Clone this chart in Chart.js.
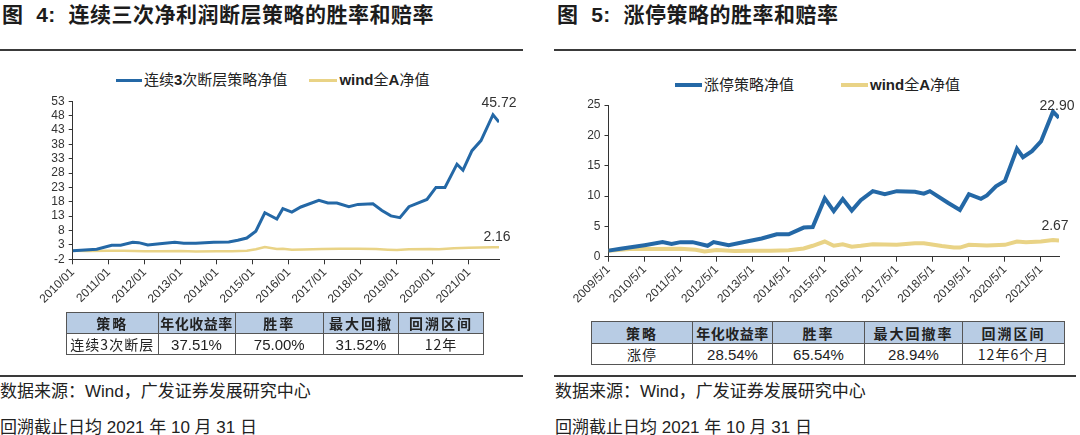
<!DOCTYPE html>
<html><head><meta charset="utf-8">
<script src="https://cdn.jsdelivr.net/npm/chart.js@4"></script>
<style>
html,body{margin:0;padding:0;background:#fff;}
body{width:1080px;height:435px;position:relative;overflow:hidden;font-family:"Liberation Sans","Noto Sans CJK SC",sans-serif;color:#222;}
.title{position:absolute;font-family:"Liberation Sans","Noto Sans CJK SC",sans-serif;font-weight:bold;font-size:21px;letter-spacing:0.5px;white-space:nowrap;line-height:24px;color:#1c1c1c;}
.rule{position:absolute;height:2px;background:#3a3a3a;}
.legend{position:absolute;font-size:15px;white-space:nowrap;display:flex;align-items:center;line-height:18px;color:#222;}
.legend b{font-family:"Liberation Sans";}
.sw{display:inline-block;height:3px;margin-right:2px;}
table{border-collapse:collapse;position:absolute;table-layout:fixed;}
td{border:1px solid #555;text-align:center;padding:0;font-size:15px;color:#222;}
td.cn{font-family:"Noto Sans CJK SC",sans-serif;font-size:14px;letter-spacing:1px;}
tr.hd td{background:#B8CCE4;font-weight:bold;font-family:"Noto Sans CJK SC",sans-serif;font-size:14px;letter-spacing:2px;}
.note{position:absolute;font-size:17px;white-space:nowrap;color:#222;line-height:20px;}
canvas{position:absolute;}
</style></head>
<body>
<div class="title" style="left:2px;top:3px;">图&nbsp;&nbsp;4:&nbsp;&nbsp;连续三次净利润断层策略的胜率和赔率</div>
<div class="rule" style="left:0;top:49px;width:523px;"></div>
<div class="title" style="left:557px;top:3px;">图&nbsp;&nbsp;5:&nbsp;&nbsp;涨停策略的胜率和赔率</div>
<div class="rule" style="left:554px;top:49px;width:522px;"></div>

<div class="legend" style="left:116px;top:71px;"><span class="sw" style="width:26px;background:#2468A6;"></span>连续<b>3</b>次断层策略净值<span class="sw" style="width:28px;background:#E9D386;margin-left:22px;"></span><b>wind</b>全<b>A</b>净值</div>
<div class="legend" style="left:675px;top:76px;"><span class="sw" style="width:27px;height:4px;background:#2468A6;"></span>涨停策略净值<span class="sw" style="width:27px;height:4px;background:#E9D386;margin-left:47px;"></span><b>wind</b>全<b>A</b>净值</div>

<canvas id="c1" width="520" height="230" style="left:0;top:90px;"></canvas>
<canvas id="c2" width="535" height="230" style="left:540px;top:90px;"></canvas>

<table style="left:66px;top:312px;width:417px;">
<colgroup><col style="width:91.5px"><col style="width:77px"><col style="width:88.5px"><col style="width:75px"><col style="width:85px"></colgroup>
<tr class="hd" style="height:21px;"><td>策略</td><td style="letter-spacing:0.5px">年化收益率</td><td>胜率</td><td>最大回撤</td><td>回溯区间</td></tr>
<tr style="height:21px;"><td class="cn">连续3次断层</td><td>37.51%</td><td>75.00%</td><td>31.52%</td><td class="cn">12年</td></tr>
</table>
<table style="left:591px;top:321px;width:473px;">
<colgroup><col style="width:101px"><col style="width:80px"><col style="width:92px"><col style="width:98px"><col style="width:102px"></colgroup>
<tr class="hd" style="height:22px;"><td>策略</td><td style="letter-spacing:0.5px">年化收益率</td><td>胜率</td><td>最大回撤率</td><td>回溯区间</td></tr>
<tr style="height:20px;"><td class="cn">涨停</td><td>28.54%</td><td>65.54%</td><td>28.94%</td><td class="cn">12年6个月</td></tr>
</table>

<div class="rule" style="left:0;top:375px;width:523px;"></div>
<div class="rule" style="left:554px;top:375px;width:522px;"></div>
<div class="note" style="left:0;top:382px;">数据来源：Wind，广发证券发展研究中心</div>
<div class="note" style="left:0;top:418px;">回溯截止日均 2021 年 10 月 31 日</div>
<div class="note" style="left:555px;top:382px;">数据来源：Wind，广发证券发展研究中心</div>
<div class="note" style="left:555px;top:418px;">回溯截止日均 2021 年 10 月 31 日</div>

<script>
// ---------- Data: chart 1 (连续三次净利润断层) ----------
const c1SeriesNames = ['连续3次断层策略净值', 'wind全A净值'];
const c1XTicks = ['2010/01','2011/01','2012/01','2013/01','2014/01','2015/01','2016/01','2017/01','2018/01','2019/01','2020/01','2021/01'];
const c1YTicks = [-2, 3, 8, 13, 18, 23, 28, 33, 38, 43, 48, 53];
const c1StratDates = ['2010/01','2010/09','2011/02','2011/05','2011/09','2011/11','2012/02','2012/06','2012/11','2013/02','2013/06','2013/12','2014/05','2014/08','2014/11','2015/02','2015/05','2015/09','2015/11','2016/02','2016/05','2016/11','2017/02','2017/05','2017/09','2017/12','2018/05','2018/08','2018/11','2019/02','2019/05','2019/11','2020/02','2020/05','2020/09','2020/11','2021/02','2021/05','2021/09','2021/11'];
const c1StratValues = [1.0,1.5,2.9,2.9,3.9,3.8,3.0,3.45,3.9,3.55,3.6,3.9,4.0,4.6,5.4,7.75,14.2,12.0,15.6,14.4,16.2,18.5,17.6,17.6,16.3,17.1,17.3,15.0,13.1,12.5,16.3,18.8,23.0,23.0,31.1,29.0,35.8,39.3,48.3,45.72];
const c1WindDates = ['2010/01','2010/06','2011/01','2011/06','2012/01','2012/06','2013/01','2013/06','2014/01','2014/06','2014/11','2015/02','2015/05','2015/09','2015/11','2016/02','2016/06','2016/12','2017/06','2017/12','2018/06','2018/10','2019/01','2019/05','2019/12','2020/03','2020/08','2021/01','2021/05','2021/09','2021/11'];
const c1WindValues = [1.0,0.9,1.0,0.95,0.8,0.8,0.85,0.75,0.8,0.8,1.0,1.5,2.3,1.6,1.7,1.3,1.45,1.6,1.65,1.7,1.6,1.35,1.2,1.5,1.55,1.5,1.85,2.05,2.1,2.2,2.16];

// ---------- Data: chart 2 (涨停) ----------
const c2SeriesNames = ['涨停策略净值', 'wind全A净值'];
const c2XTicks = ['2009/5/1','2010/5/1','2011/5/1','2012/5/1','2013/5/1','2014/5/1','2015/5/1','2016/5/1','2017/5/1','2018/5/1','2019/5/1','2020/5/1','2021/5/1'];
const c2YTicks = [0, 5, 10, 15, 20, 25];
const c2StratDates = ['2009/5','2009/9','2010/1','2010/5','2010/11','2011/2','2011/5','2011/9','2012/2','2012/4','2012/9','2013/3','2013/8','2014/1','2014/5','2014/10','2015/1','2015/5','2015/8','2015/11','2016/2','2016/5','2016/9','2017/1','2017/5','2017/11','2018/2','2018/4','2018/10','2019/2','2019/5','2019/9','2019/11','2020/2','2020/5','2020/9','2020/11','2021/2','2021/5','2021/9','2021/11'];
const c2StratValues = [1.0,1.3,1.6,1.9,2.4,2.1,2.4,2.4,1.8,2.4,1.9,2.5,3.0,3.7,3.7,4.8,4.9,9.6,7.5,9.5,7.6,9.3,10.8,10.3,10.8,10.7,10.4,10.8,8.9,7.7,10.3,9.55,10.1,11.6,12.5,17.8,16.4,17.4,19.0,23.9,22.90];
const c2WindDates = ['2009/5','2010/1','2010/8','2011/5','2011/10','2012/1','2012/5','2012/11','2013/5','2013/11','2014/5','2014/10','2015/1','2015/5','2015/8','2015/11','2016/2','2016/5','2016/9','2017/5','2017/11','2018/2','2018/8','2018/12','2019/2','2019/5','2019/11','2020/5','2020/9','2020/12','2021/5','2021/9','2021/11'];
const c2WindValues = [1.0,1.3,1.25,1.3,1.15,0.85,1.1,0.95,1.0,1.0,1.05,1.35,1.8,2.5,1.8,2.05,1.65,1.8,2.05,1.95,2.2,2.2,1.75,1.5,1.5,1.95,1.85,1.95,2.5,2.4,2.5,2.75,2.67];

// ---------- helpers ----------
const toYear = s => { const p = s.split('/'); return +p[0] + (+p[1] - 1) / 12; };
const pts = (dates, vals) => dates.map((d, i) => ({ x: toYear(d), y: vals[i] }));

const endLabels = {
  id: 'endLabels',
  afterDatasetsDraw(chart) {
    const ctx = chart.ctx;
    chart.data.datasets.forEach((ds, i) => {
      const meta = chart.getDatasetMeta(i);
      const el = meta.data[meta.data.length - 1];
      const v = ds.data[ds.data.length - 1].y;
      ctx.save();
      ctx.font = '14px "Liberation Sans", Arial, sans-serif';
      ctx.fillStyle = '#333';
      ctx.textAlign = 'center';
      ctx.textBaseline = 'bottom';
      ctx.fillText(v.toFixed(2), el.x + (ds.labelDx || 0), el.y - ds.labelDy);
      ctx.restore();
    });
  }
};

function makeChart(id, cfg) {
  const tickFont = { family: '"Liberation Sans", Arial, sans-serif', size: 12 };
  return new Chart(document.getElementById(id), {
    type: 'line',
    data: {
      datasets: [
        { label: cfg.names[0], data: pts(cfg.sDates, cfg.sVals), borderColor: '#2468A6', borderWidth: cfg.bw[0], pointRadius: 0, tension: 0, labelDy: cfg.dy[0], labelDx: cfg.dx[0] },
        { label: cfg.names[1], data: pts(cfg.wDates, cfg.wVals), borderColor: '#E9D386', borderWidth: cfg.bw[1], pointRadius: 0, tension: 0, labelDy: cfg.dy[1], labelDx: cfg.dx[1] }
      ]
    },
    options: {
      responsive: false, animation: false, devicePixelRatio: 1,
      layout: { padding: cfg.pad },
      plugins: { legend: { display: false }, tooltip: { enabled: false } },
      scales: {
        x: {
          type: 'linear', min: toYear(cfg.xTicks[0]), max: toYear(cfg.xMax),
          afterBuildTicks: ax => { ax.ticks = cfg.xTicks.map(t => ({ value: toYear(t) })); },
          afterFit: ax => { ax.height = cfg.xH; },
          ticks: { callback: (v, i) => cfg.xTicks[i], autoSkip: false, maxRotation: 45, minRotation: 45, font: tickFont, color: '#333', padding: 1 },
          grid: { drawOnChartArea: false, drawTicks: true, tickLength: 5, color: '#333' },
          border: { display: true, color: '#333', width: 1 }
        },
        y: {
          min: cfg.yTicks[0], max: cfg.yTicks[cfg.yTicks.length - 1],
          afterBuildTicks: ax => { ax.ticks = cfg.yTicks.map(v => ({ value: v })); },
          afterFit: ax => { ax.width = cfg.yW; },
          ticks: { autoSkip: false, callback: v => String(v), font: tickFont, color: '#333', padding: 4 },
          grid: { drawOnChartArea: false, drawTicks: true, tickLength: 4, color: '#333' },
          border: { display: true, color: '#333', width: 1 }
        }
      }
    },
    plugins: [endLabels]
  });
}

makeChart('c1', {
  names: c1SeriesNames, sDates: c1StratDates, sVals: c1StratValues, wDates: c1WindDates, wVals: c1WindValues,
  xTicks: c1XTicks, xMax: '2021/11', yTicks: c1YTicks, bw: [3, 2.5], dy: [12, 3], dx: [0, -2],
  pad: { top: 8, right: 21, left: 0, bottom: 0 }, xH: 60.7, yW: 72.7
});
makeChart('c2', {
  names: c2SeriesNames, sDates: c2StratDates, sVals: c2StratValues, wDates: c2WindDates, wVals: c2WindValues,
  xTicks: c2XTicks, xMax: '2021/11', yTicks: c2YTicks, bw: [4, 4], dy: [5, 7], dx: [-2, -4],
  pad: { top: 15, right: 16, left: 0, bottom: 0 }, xH: 63.3, yW: 68.5
});
</script>
</body></html>
